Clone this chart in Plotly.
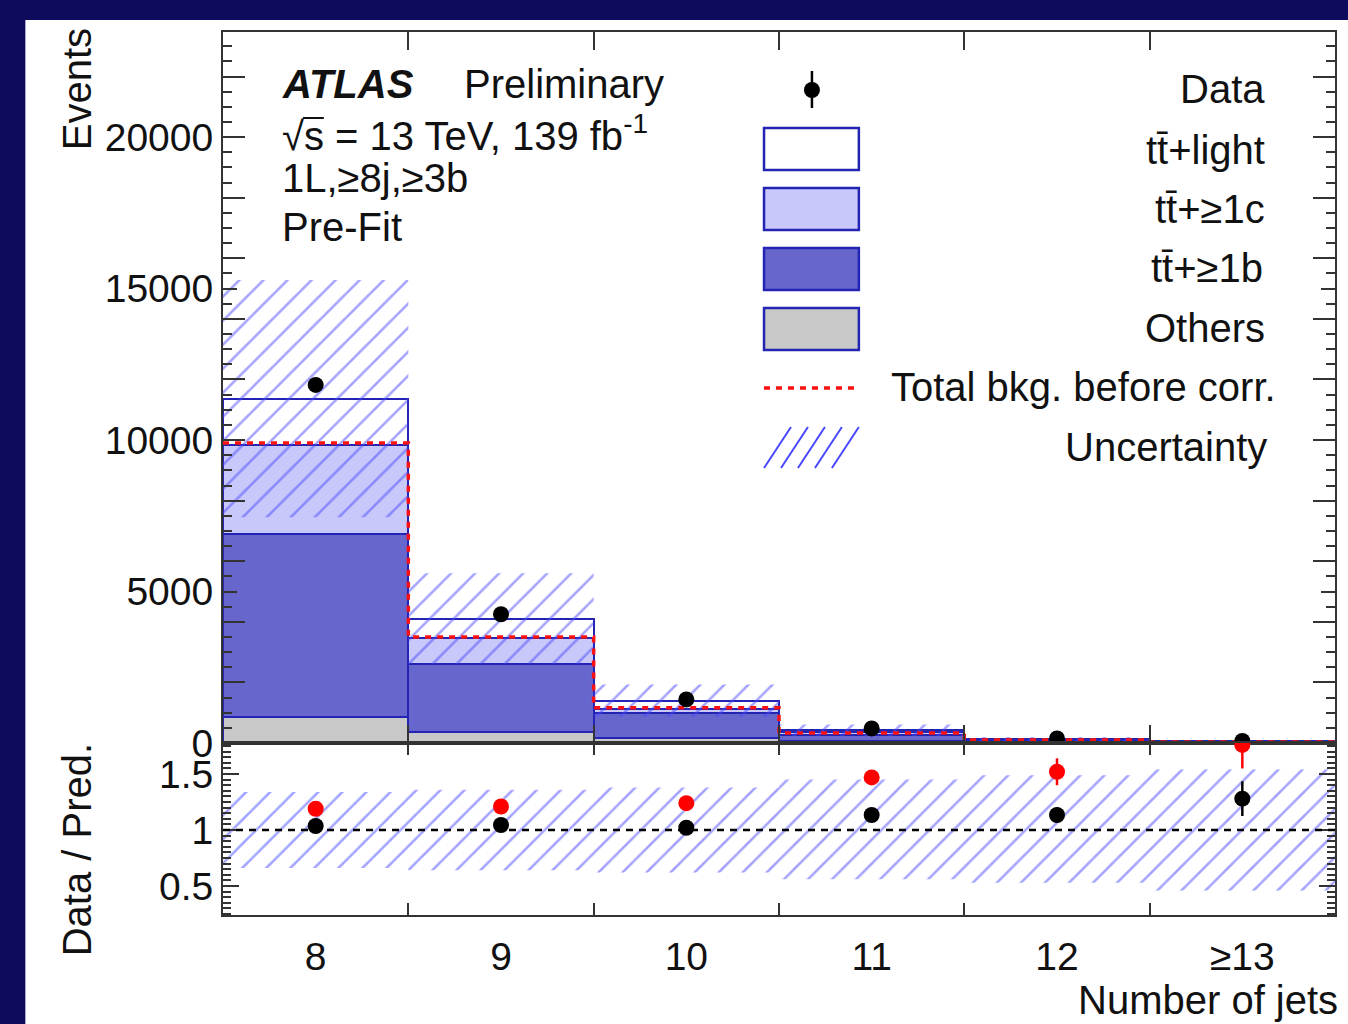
import plotly.graph_objects as go

# ---------------- data ----------------
njets = [8, 9, 10, 11, 12, 13]
njet_labels = ["8", "9", "10", "11", "12", "≥13"]

others = [870, 360, 170, 60, 20, 8]
tt_1b = [6020, 2250, 820, 210, 60, 22]
tt_1c = [2950, 850, 140, 80, 25, 12]
tt_light = [1520, 640, 270, 70, 27, 10]
total_before_corr = [9900, 3500, 1160, 327, 99, 37]
data = [11820, 4250, 1440, 480, 150, 66]
data_err = [109, 65, 38, 22, 12, 8]
unc_low = [7450, 2620, 870, 230, 67, 24]
unc_high = [15280, 5600, 1930, 610, 197, 80]

ratio = [1.036, 1.045, 1.02, 1.134, 1.134, 1.28]
ratio_err = [0.01, 0.016, 0.027, 0.05, 0.07, 0.155]
ratio_before = [1.19, 1.21, 1.24, 1.47, 1.52, 1.76]
ratio_before_err = [0.012, 0.02, 0.035, 0.06, 0.12, 0.21]
ratio_unc_low = [0.66, 0.64, 0.62, 0.56, 0.53, 0.46]
ratio_unc_high = [1.34, 1.36, 1.38, 1.45, 1.49, 1.54]

# ---------------- style ----------------
W, H = 1348, 1024
L, R, T, B = 223, 1337, 32, 915
SPLIT = 743
FONT = "Liberation Sans"
NAVY = "#0e0a5c"
OUTLINE = "#2424b4"
HATCH = "rgb(72,72,255)"
TXT = "#111111"
AX = "#333333"
TS = 40  # text size
TICKS = 39

edges = [n - 0.5 for n in njets] + [njets[-1] + 0.5]


def step(vals):
    return list(vals) + [vals[-1]]


def px2x(px):
    return (px - L) / (R - L)


def px2y(py):
    return (B - py) / (B - T)


ratio_dom = (B - SPLIT) / (B - T)

fig = go.Figure()

# stacked histogram
for vals, color, name in [
    (others, "#c8c8c8", "Others"),
    (tt_1b, "#6666cc", "tt+>=1b"),
    (tt_1c, "#c8c8fa", "tt+>=1c"),
    (tt_light, "#ffffff", "tt+light"),
]:
    fig.add_trace(go.Bar(x=njets, y=vals, width=1, name=name,
                         marker=dict(color=color, line=dict(color=OUTLINE, width=2)),
                         xaxis="x", yaxis="y", showlegend=False, hoverinfo="skip"))

hatch = dict(shape="/", fgcolor=HATCH, bgcolor="rgba(0,0,0,0)", size=17, solidity=0.15)

# uncertainty band (main)
fig.add_trace(go.Scatter(x=edges, y=step(unc_low), mode="lines", line=dict(width=0, shape="hv"),
                         xaxis="x", yaxis="y", showlegend=False, hoverinfo="skip"))
fig.add_trace(go.Scatter(x=edges, y=step(unc_high), mode="lines", line=dict(width=0, shape="hv"),
                         fill="tonexty", fillcolor="rgba(0,0,0,0)", fillpattern=hatch,
                         xaxis="x", yaxis="y", showlegend=False, hoverinfo="skip"))

# total before correction
fig.add_trace(go.Scatter(x=edges, y=step(total_before_corr), mode="lines",
                         line=dict(color="#ff1010", width=3.5, shape="hv", dash="6px,6px"),
                         xaxis="x", yaxis="y", showlegend=False, hoverinfo="skip"))

# data
fig.add_trace(go.Scatter(x=njets, y=data, mode="markers",
                         marker=dict(color="black", size=16),
                         error_y=dict(type="data", array=data_err, color="black", thickness=2.5, width=0),
                         xaxis="x", yaxis="y", showlegend=False, hoverinfo="skip"))

# ratio band
fig.add_trace(go.Scatter(x=edges, y=step(ratio_unc_low), mode="lines", line=dict(width=0, shape="hv"),
                         xaxis="x2", yaxis="y2", showlegend=False, hoverinfo="skip"))
fig.add_trace(go.Scatter(x=edges, y=step(ratio_unc_high), mode="lines", line=dict(width=0, shape="hv"),
                         fill="tonexty", fillcolor="rgba(0,0,0,0)", fillpattern=hatch,
                         xaxis="x2", yaxis="y2", showlegend=False, hoverinfo="skip"))

# ratio points
fig.add_trace(go.Scatter(x=njets, y=ratio_before, mode="markers",
                         marker=dict(color="#ff0000", size=16),
                         error_y=dict(type="data", array=ratio_before_err, color="#ff0000", thickness=2.5, width=0),
                         xaxis="x2", yaxis="y2", showlegend=False, hoverinfo="skip"))
fig.add_trace(go.Scatter(x=njets, y=ratio, mode="markers",
                         marker=dict(color="black", size=16),
                         error_y=dict(type="data", array=ratio_err, color="black", thickness=2.5, width=0),
                         xaxis="x2", yaxis="y2", showlegend=False, hoverinfo="skip"))

# empty helper traces so the tick-only overlay axes are drawn
for ya, xa in [("y3", "x"), ("y4", "x"), ("y5", "x2")]:
    fig.add_trace(go.Scatter(x=[], y=[], xaxis=xa, yaxis=ya, showlegend=False))

axis_common = dict(showline=True, linecolor=AX, linewidth=2, mirror="ticks",
                   showgrid=False, zeroline=False, tickcolor=AX, tickwidth=2,
                   tickfont=dict(family=FONT, size=TICKS, color=TXT))
tick_only = dict(showticklabels=False, showline=False, showgrid=False, zeroline=False,
                 tickcolor=AX, tickwidth=2, ticks="inside")

fig.update_layout(
    width=W, height=H,
    margin=dict(l=L, r=W - R, t=T, b=H - B, pad=0),
    paper_bgcolor=NAVY, plot_bgcolor="white",
    barmode="stack", bargap=0,
    font=dict(family=FONT, color=TXT),
    xaxis=dict(domain=[0, 1], anchor="y", range=[edges[0], edges[-1]], matches="x2",
               tickvals=njets, showticklabels=False, ticks="",
               minor=dict(tickvals=edges[1:-1], ticks="inside", ticklen=18,
                          tickcolor=AX, tickwidth=2),
               **axis_common),
    xaxis2=dict(domain=[0, 1], anchor="y2", range=[edges[0], edges[-1]],
                tickvals=njets, ticktext=njet_labels, ticks="", ticklabelstandoff=6,
                minor=dict(tickvals=edges[1:-1], ticks="inside", ticklen=12,
                           tickcolor=AX, tickwidth=2),
                **axis_common),
    yaxis=dict(domain=[ratio_dom, 1], anchor="x", range=[0, 23470],
               tickmode="linear", tick0=0, dtick=5000, tickformat="d",
               ticks="inside", ticklen=14, ticklabelstandoff=0,
               minor=dict(dtick=500, tick0=0, ticks="inside", ticklen=9, tickcolor=AX, tickwidth=2),
               **axis_common),
    yaxis3=dict(overlaying="y", anchor="x", side="left", range=[0, 23470], matches="y",
                tickmode="linear", tick0=0, dtick=2000, ticklen=22, mirror="ticks", **tick_only),
    yaxis4=dict(overlaying="y", anchor="x", side="right", range=[0, 23470], matches="y",
                tickmode="linear", tick0=0, dtick=500, ticklen=9, **tick_only),
    yaxis2=dict(domain=[0, ratio_dom], anchor="x2", range=[0.241, 1.777],
                tickmode="linear", tick0=0, dtick=0.5,
                ticks="inside", ticklen=16, ticklabelstandoff=0,
                minor=dict(dtick=0.05, tick0=0, ticks="inside", ticklen=8, tickcolor=AX, tickwidth=1.5),
                **axis_common),
    yaxis5=dict(overlaying="y2", anchor="x2", side="right", range=[0.241, 1.777], matches="y2",
                tickmode="linear", tick0=0, dtick=0.05, ticklen=8, **tick_only),
)

shapes = []
# white canvas
shapes.append(dict(type="rect", xref="paper", yref="paper", layer="below",
                   x0=px2x(25), x1=px2x(1352), y0=px2y(1028), y1=px2y(20),
                   fillcolor="white", line=dict(width=0)))
# ratio reference line
shapes.append(dict(type="line", xref="x2 domain", yref="y2", x0=0, x1=1, y0=1, y1=1,
                   line=dict(color="black", width=2.5, dash="7px,6px")))

# legend symbols
LX0, LX1 = 765, 860
for yc, fill in [(149, "#ffffff"), (209, "#c8c8fa"), (269, "#6666cc"), (329, "#c8c8c8")]:
    shapes.append(dict(type="rect", xref="paper", yref="paper",
                       x0=px2x(LX0), x1=px2x(LX1), y0=px2y(yc + 21), y1=px2y(yc - 21),
                       fillcolor=fill, line=dict(color=OUTLINE, width=2.5)))
# data marker
shapes.append(dict(type="line", xref="paper", yref="paper", x0=px2x(813), x1=px2x(813),
                   y0=px2y(71), y1=px2y(108), line=dict(color="black", width=2.5)))
shapes.append(dict(type="circle", xref="paper", yref="paper", x0=px2x(805), x1=px2x(821),
                   y0=px2y(98), y1=px2y(82), fillcolor="black", line=dict(color="black", width=0)))
# red dashed
shapes.append(dict(type="line", xref="paper", yref="paper", x0=px2x(LX0), x1=px2x(LX1),
                   y0=px2y(388), y1=px2y(388), line=dict(color="#ff1010", width=3.5, dash="6px,6px")))
# hatch icon
for x0 in [765, 782, 799, 816, 833]:
    shapes.append(dict(type="line", xref="paper", yref="paper", x0=px2x(x0), x1=px2x(x0 + 27),
                       y0=px2y(468), y1=px2y(427), line=dict(color=HATCH, width=2)))
# radical overline over "s"
shapes.append(dict(type="line", xref="paper", yref="paper", x0=px2x(303), x1=px2x(324),
                   y0=px2y(118), y1=px2y(118), line=dict(color=TXT, width=2)))

fig.update_layout(shapes=shapes)

ann = []


def text(s, x, y, xanchor="left", size=TS, angle=0, yanchor="middle"):
    ann.append(dict(text=s, x=px2x(x), y=px2y(y), xref="paper", yref="paper",
                    xanchor=xanchor, yanchor=yanchor, showarrow=False, textangle=angle,
                    font=dict(family=FONT, size=size, color=TXT)))


text("<b><i>ATLAS</i></b>", 280, 84)
text("Preliminary", 462, 84)
text("√s = 13 TeV, 139 fb<sup>-1</sup>", 280, 133)
text("1L,≥8j,≥3b", 280, 178)
text("Pre-Fit", 280, 227)

text("Data", 1269, 89, xanchor="right")
text("tt\u0304+light", 1269, 150, xanchor="right")
text("tt\u0304+≥1c", 1269, 209, xanchor="right")
text("tt\u0304+≥1b", 1267, 268, xanchor="right")
text("Others", 1269, 328, xanchor="right")
text("Total bkg. before corr.", 1280, 387, xanchor="right")
text("Uncertainty", 1271, 447, xanchor="right")

text("Events", 77, 26, xanchor="center", angle=-90, yanchor="top")
text("Data / Pred.", 77, 850, xanchor="center", angle=-90)
text("Number of jets", 1342, 1000, xanchor="right")

fig.update_layout(annotations=ann)

fig.write_html(
    "out.html",
    config={"displayModeBar": False},
    post_script="document.body.style.margin='0px';"
                "document.body.style.backgroundColor='" + NAVY + "';",
)
